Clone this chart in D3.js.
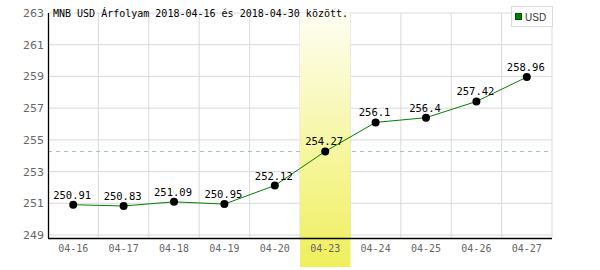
<!DOCTYPE html>
<html>
<head>
<meta charset="utf-8">
<script src="https://cdn.jsdelivr.net/npm/d3@7"></script>
<style>
  html, body { margin: 0; padding: 0; background: #fff; }
  svg { display: block; }
</style>
</head>
<body>
<div id="chart"></div>
<script>
const dates = ['04-16', '04-17', '04-18', '04-19', '04-20', '04-23', '04-24', '04-25', '04-26', '04-27'];
const usd = [250.91, 250.83, 251.09, 250.95, 252.12, 254.27, 256.1, 256.4, 257.42, 258.96];
const yTicks = [249, 251, 253, 255, 257, 259, 261, 263];
const highlight = '04-23';
const refValue = 254.27;
const title = 'MNB USD Árfolyam 2018-04-16 és 2018-04-30 között.';
const seriesName = 'USD';

const width = 600;
const height = 270;
const margin = { top: 13, right: 48, bottom: 35, left: 48 };

const svg = d3.select('#chart')
  .append('svg')
  .attr('width', width)
  .attr('height', height);

const x = d3.scaleBand()
  .domain(dates)
  .range([margin.left, width - margin.right]);

const y = d3.scaleLinear()
  .domain([249, 263])
  .range([height - margin.bottom, margin.top]);

const axisY = 238;

// gradient for highlighted day
const grad = svg.append('defs')
  .append('linearGradient')
  .attr('id', 'hl')
  .attr('x1', 0).attr('y1', 0)
  .attr('x2', 0).attr('y2', 1);
grad.append('stop').attr('offset', '0%').attr('stop-color', '#fefef2');
grad.append('stop').attr('offset', '100%').attr('stop-color', '#efef5c');

// horizontal grid
svg.append('g')
  .selectAll('line')
  .data(yTicks)
  .join('line')
  .attr('x1', x.range()[0])
  .attr('x2', x.range()[1])
  .attr('y1', d => y(d))
  .attr('y2', d => y(d))
  .attr('stroke', '#dadada')
  .attr('stroke-width', 1);

// vertical grid at column edges
const edges = dates.map(d => x(d)).concat([x.range()[1]]);
svg.append('g')
  .selectAll('line')
  .data(edges.slice(1))
  .join('line')
  .attr('x1', d => d)
  .attr('x2', d => d)
  .attr('y1', y(263))
  .attr('y2', axisY)
  .attr('stroke', '#dadada')
  .attr('stroke-width', 1);

// reference (dashed) line
svg.append('line')
  .attr('x1', x.range()[0])
  .attr('x2', x.range()[1])
  .attr('y1', Math.round(y(refValue)) + 0.5)
  .attr('y2', Math.round(y(refValue)) + 0.5)
  .attr('stroke', '#9fcb9f')
  .attr('stroke-dasharray', '4,4');

// highlighted column
svg.append('rect')
  .attr('x', x(highlight))
  .attr('y', y(263))
  .attr('width', x.bandwidth())
  .attr('height', height - 3 - y(263))
  .attr('fill', 'url(#hl)');

// axes lines
svg.append('line')
  .attr('x1', x.range()[0])
  .attr('x2', x.range()[1])
  .attr('y1', axisY + 0.5)
  .attr('y2', axisY + 0.5)
  .attr('stroke', '#000')
  .attr('stroke-width', 1.3);

svg.append('line')
  .attr('x1', x.range()[0] + 0.5)
  .attr('x2', x.range()[0] + 0.5)
  .attr('y1', y(263))
  .attr('y2', axisY)
  .attr('stroke', '#000')
  .attr('stroke-width', 1.3);

// y labels
const yAxis = svg.append('g')
  .attr('transform', `translate(${margin.left - 4},0)`)
  .call(d3.axisLeft(y).tickValues(yTicks).tickSize(0).tickPadding(0).tickFormat(d3.format('d')));
yAxis.select('.domain').remove();
yAxis.selectAll('text')
  .attr('fill', '#666')
  .style('font-family', 'DejaVu Sans, sans-serif')
  .style('font-size', '11px');

// x labels
const xAxis = svg.append('g')
  .attr('transform', `translate(0,${axisY + 5})`)
  .call(d3.axisBottom(x).tickSize(0).tickPadding(0));
xAxis.select('.domain').remove();
xAxis.selectAll('text')
  .attr('fill', '#666')
  .attr('dy', '0.9em')
  .style('font-family', 'DejaVu Sans Mono, monospace')
  .style('font-size', '10px');

// series line
const cx = d => x(d) + x.bandwidth() / 2;
const line = d3.line()
  .x((d, i) => cx(dates[i]))
  .y(d => y(d));

svg.append('path')
  .datum(usd)
  .attr('fill', 'none')
  .attr('stroke', '#008000')
  .attr('stroke-width', 1)
  .attr('d', line);

svg.append('g')
  .selectAll('circle')
  .data(usd)
  .join('circle')
  .attr('cx', (d, i) => cx(dates[i]))
  .attr('cy', d => y(d))
  .attr('r', 4)
  .attr('fill', '#000');

svg.append('g')
  .selectAll('text')
  .data(usd)
  .join('text')
  .attr('x', (d, i) => cx(dates[i]) - 1)
  .attr('y', d => y(d) - 6)
  .attr('text-anchor', 'middle')
  .attr('fill', '#000')
  .style('font-family', 'DejaVu Sans Mono, monospace')
  .style('font-size', '10.5px')
  .text(d => d);

// title
svg.append('text')
  .attr('x', 53)
  .attr('y', 17)
  .attr('fill', '#000')
  .style('font-family', 'DejaVu Sans Mono, monospace')
  .style('font-size', '10px')
  .text(title);

// legend
const legend = svg.append('g')
  .attr('transform', `translate(511,6)`);
legend.append('rect')
  .attr('x', 0.5).attr('y', 0.5)
  .attr('width', 41).attr('height', 20)
  .attr('fill', '#fff')
  .attr('stroke', '#dadada');
legend.append('rect')
  .attr('x', 4.5).attr('y', 7.5)
  .attr('width', 6).attr('height', 6)
  .attr('fill', '#008000')
  .attr('stroke', '#005000');
legend.append('text')
  .attr('x', 14)
  .attr('y', 14.5)
  .attr('fill', '#333')
  .style('font-family', 'Liberation Sans Narrow, Liberation Sans, sans-serif')
  .style('font-size', '10px')
  .text(seriesName);
</script>
</body>
</html>
